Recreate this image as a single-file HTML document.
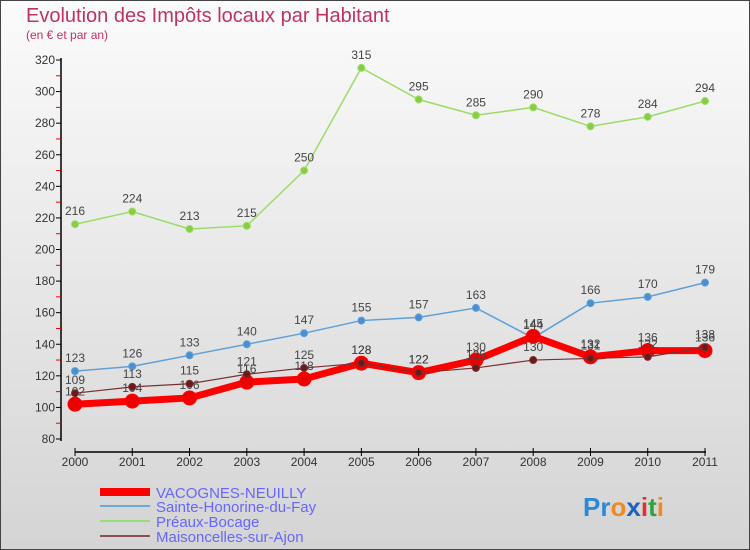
<!DOCTYPE html>
<html><head><meta charset="utf-8"><style>
body{margin:0}
#c{width:750px;height:550px;position:relative;overflow:hidden;font-family:"Liberation Sans",sans-serif}
</style></head><body>
<div id="c">
<svg id="s" width="750" height="550" xmlns="http://www.w3.org/2000/svg">
<defs><linearGradient id="bg" x1="0" y1="0" x2="0" y2="1"><stop offset="0" stop-color="#fbfbfb"/><stop offset="1" stop-color="#d4d4d4"/></linearGradient></defs>
<rect x="0.5" y="0.5" width="749" height="549" fill="url(#bg)" stroke="#444"/>
<text x="26" y="22" font-size="20" fill="#c0335f">Evolution des Impôts locaux par Habitant</text>
<text x="26" y="39" font-size="12" fill="#c0335f">(en € et par an)</text>
<g id="axes"></g><g id="series"></g>
<g>
<rect x="100" y="488" width="50" height="8" fill="#ff0000"/>
<text x="156" y="498" font-size="15" fill="#6666ff">VACOGNES-NEUILLY</text>
<rect x="100" y="505" width="50" height="2" fill="#6fa8d8"/>
<text x="156" y="512" font-size="15" fill="#6666ff">Sainte-Honorine-du-Fay</text>
<rect x="100" y="520" width="50" height="2" fill="#99dd77"/>
<text x="156" y="527" font-size="15" fill="#6666ff">Préaux-Bocage</text>
<rect x="100" y="535" width="50" height="2" fill="#8b5050"/>
<text x="156" y="542" font-size="15" fill="#6666ff">Maisoncelles-sur-Ajon</text>
</g>
<g font-size="26" font-weight="bold" font-family="'Liberation Sans',sans-serif">
<text x="583" y="516"><tspan fill="#2a8ad8">P</tspan><tspan fill="#2a8ad8">r</tspan><tspan fill="#f08a20">o</tspan><tspan fill="#2060c0">x</tspan><tspan fill="#e03030">i</tspan><tspan fill="#30a040">t</tspan><tspan fill="#f08a20">i</tspan></text>
</g>
</svg>
</div>
<script>
const years=[2000,2001,2002,2003,2004,2005,2006,2007,2008,2009,2010,2011];
const yTicks=[80,100,120,140,160,180,200,220,240,260,280,300,320];
const vacognes=[102,104,106,116,118,128,122,130,145,132,136,136];
const sainteHonorine=[123,126,133,140,147,155,157,163,144,166,170,179];
const preaux=[216,224,213,215,250,315,295,285,290,278,284,294];
const maisoncelles=[109,113,115,121,125,128,122,125,130,131,132,138];
const NS="http://www.w3.org/2000/svg";
function X(i){return 75+i*(705-75)/11;}
function Y(v){return 439-(v-80)*(439-60)/240;}
function mk(t,a,p){const e=document.createElementNS(NS,t);for(const k in a)e.setAttribute(k,a[k]);p.appendChild(e);return e;}
const ax=document.getElementById('axes');
let l=mk('line',{x1:61,y1:58,x2:61,y2:441,stroke:'#000','stroke-width':1.5},ax);


yTicks.forEach(v=>{
 mk('line',{x1:56,y1:Y(v),x2:61,y2:Y(v),stroke:'#000'},ax);
 if(v<320)mk('line',{x1:56,y1:Y(v+10),x2:61,y2:Y(v+10),stroke:'#e00'},ax);
 const t=mk('text',{x:55,y:Y(v)+4,'text-anchor':'end','font-size':12,fill:'#333'},ax);
 t.textContent=v;
 
 
});
let xl=mk('line',{x1:75,y1:452,x2:706,y2:452,stroke:'#000','stroke-width':1.5},ax);


years.forEach((yr,i)=>{
 mk('line',{x1:X(i),y1:448,x2:X(i),y2:456,stroke:'#000'},ax);
 const t=mk('text',{x:X(i),y:466,'text-anchor':'middle','font-size':12,fill:'#333'},ax);
 t.textContent=yr;
 
 
});
const sg=document.getElementById('series');
function draw(vals,color,w,r,dot,name){
 const g=mk('g',{},sg);
 
 
 mk('polyline',{points:vals.map((v,i)=>X(i)+','+Y(v)).join(' '),fill:'none',stroke:color,'stroke-width':w,'stroke-linejoin':'round'},g);
 vals.forEach((v,i)=>{
  const c=mk('circle',{cx:X(i),cy:Y(v),r:r,fill:dot,stroke:color,'stroke-width':1},g);
  
  
  const t=mk('text',{x:X(i),y:Y(v)-9,'text-anchor':'middle','font-size':12,fill:'#444'},g);
  t.textContent=v;
  
  
 });
}
draw(preaux,'#99dd66',1.5,3.5,'#88cc44','preaux-line');
draw(sainteHonorine,'#5fa0d8',1.5,3.5,'#4a90d0','sainte-honorine-line');
draw(vacognes,'#ff0000',7,7,'#ee0000','vacognes-line');
draw(maisoncelles,'#7a3030',1.2,3.5,'#6a1a1a','maisoncelles-line');
</script>
</body></html>
